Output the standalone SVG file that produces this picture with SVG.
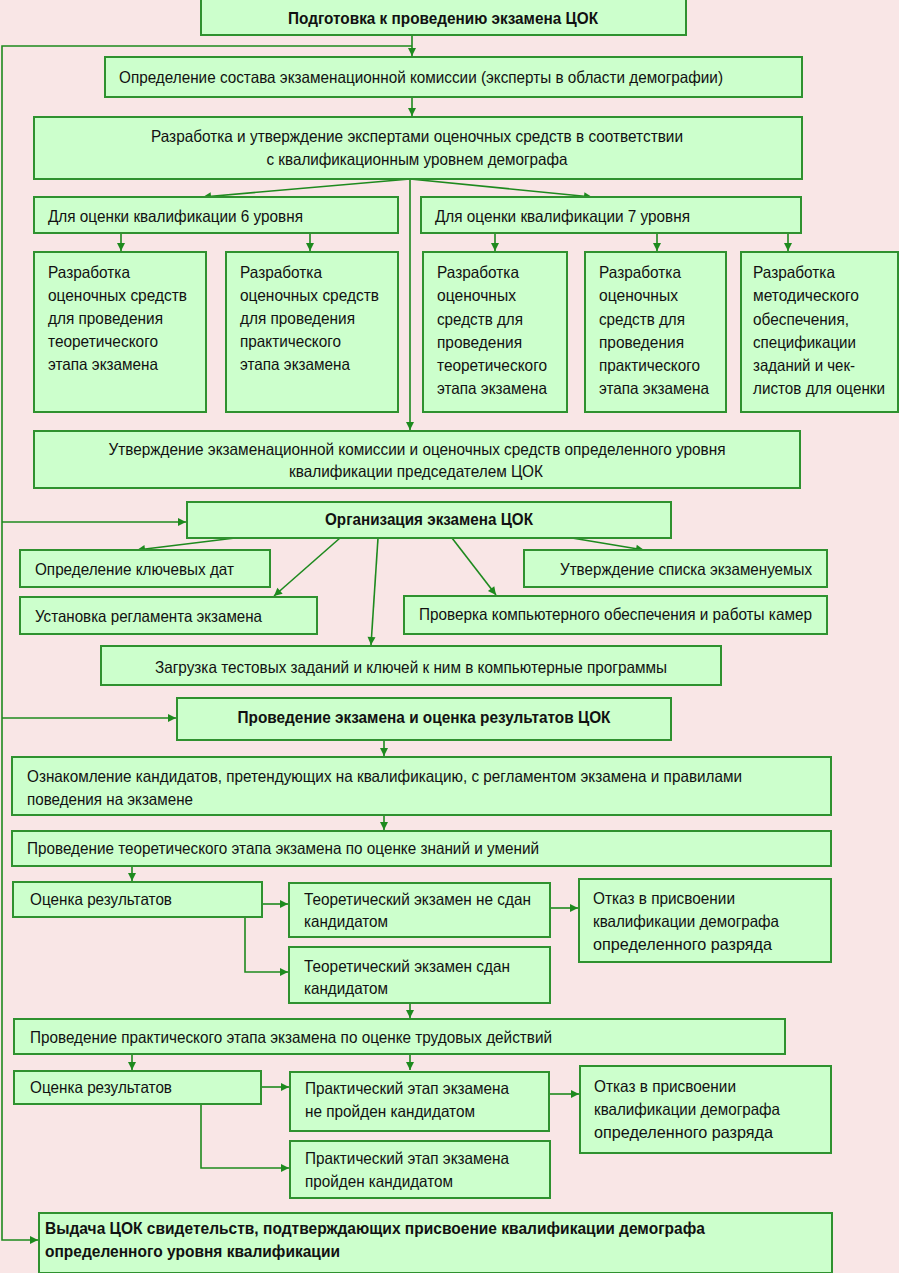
<svg xmlns="http://www.w3.org/2000/svg" width="899" height="1273" viewBox="0 0 899 1273">
<style>
.bg{fill:#f9e6e6}
.box{fill:#ccffcc;stroke:#2f912f;stroke-width:2}
.t{font-family:"Liberation Sans",Arial,sans-serif;font-size:16.5px;fill:#111}
.b{font-weight:bold}
.c{text-anchor:middle}
.ln{fill:none;stroke:#1e8a1e;stroke-width:1.6}
</style>
<defs>
<marker id="ah" markerUnits="userSpaceOnUse" markerWidth="10" markerHeight="10" refX="9" refY="5" orient="auto">
<path d="M1,1 L9,5 L1,9 Z" fill="#1e8a1e"/>
</marker>
</defs>
<rect class="bg" x="0" y="0" width="899" height="1273"/>

<g id="connectors">
<path class="ln" d="M412,35 V56" marker-end="url(#ah)"/>
<path class="ln" d="M412,46 H2 V1240 H38" marker-end="url(#ah)"/>
<path class="ln" d="M2,522 H186" marker-end="url(#ah)"/>
<path class="ln" d="M2,718 H176" marker-end="url(#ah)"/>
<path class="ln" d="M412,97 V116" marker-end="url(#ah)"/>
<path class="ln" d="M410,179 L203,197" marker-end="url(#ah)"/>
<path class="ln" d="M410,179 L592,197" marker-end="url(#ah)"/>
<path class="ln" d="M410,179 V430" marker-end="url(#ah)"/>
<path class="ln" d="M121,233 V251" marker-end="url(#ah)"/>
<path class="ln" d="M310,233 V251" marker-end="url(#ah)"/>
<path class="ln" d="M495,233 V251" marker-end="url(#ah)"/>
<path class="ln" d="M657,233 V251" marker-end="url(#ah)"/>
<path class="ln" d="M788,233 V251" marker-end="url(#ah)"/>
<path class="ln" d="M235,538 L137,550" marker-end="url(#ah)"/>
<path class="ln" d="M340,538 L274,596" marker-end="url(#ah)"/>
<path class="ln" d="M378,538 L371,645" marker-end="url(#ah)"/>
<path class="ln" d="M452,538 L496,595" marker-end="url(#ah)"/>
<path class="ln" d="M572,538 L644,550" marker-end="url(#ah)"/>
<path class="ln" d="M384,740 V756" marker-end="url(#ah)"/>
<path class="ln" d="M384,815 V830" marker-end="url(#ah)"/>
<path class="ln" d="M132,866 V881" marker-end="url(#ah)"/>
<path class="ln" d="M262,904 H288" marker-end="url(#ah)"/>
<path class="ln" d="M245,917 V972 H288" marker-end="url(#ah)"/>
<path class="ln" d="M550,908 H578" marker-end="url(#ah)"/>
<path class="ln" d="M410,1003 V1018" marker-end="url(#ah)"/>
<path class="ln" d="M132,1054 V1070" marker-end="url(#ah)"/>
<path class="ln" d="M410,1054 V1070" marker-end="url(#ah)"/>
<path class="ln" d="M261,1087 H289" marker-end="url(#ah)"/>
<path class="ln" d="M201,1104 V1168 H289" marker-end="url(#ah)"/>
<path class="ln" d="M549,1094 H579" marker-end="url(#ah)"/>
</g>

<g id="n1"><rect class="box" x="201" y="-1" width="485" height="36"/>
<text class="t b c" x="443" y="24" textLength="310" lengthAdjust="spacingAndGlyphs">Подготовка к проведению экзамена ЦОК</text></g>

<g id="n2"><rect class="box" x="105" y="57" width="697" height="40"/>
<text class="t" x="119" y="83" textLength="604" lengthAdjust="spacingAndGlyphs">Определение состава экзаменационной комиссии (эксперты в области демографии)</text></g>

<g id="n3"><rect class="box" x="34" y="117" width="768" height="62"/>
<text class="t c" x="417" y="142" textLength="532" lengthAdjust="spacingAndGlyphs">Разработка и утверждение экспертами оценочных средств в соответствии</text>
<text class="t c" x="417" y="165" textLength="301" lengthAdjust="spacingAndGlyphs">с квалификационным уровнем демографа</text></g>

<g id="n4"><rect class="box" x="34" y="197" width="364" height="36"/>
<text class="t" x="48" y="222" textLength="255" lengthAdjust="spacingAndGlyphs">Для оценки квалификации 6 уровня</text></g>

<g id="n5"><rect class="box" x="421" y="197" width="380" height="36"/>
<text class="t" x="435" y="222" textLength="255" lengthAdjust="spacingAndGlyphs">Для оценки квалификации 7 уровня</text></g>

<g id="n6"><rect class="box" x="34" y="252" width="172" height="160"/>
<text class="t" x="48" y="278" textLength="82" lengthAdjust="spacingAndGlyphs">Разработка</text>
<text class="t" x="48" y="301" textLength="139" lengthAdjust="spacingAndGlyphs">оценочных средств</text>
<text class="t" x="48" y="324" textLength="115" lengthAdjust="spacingAndGlyphs">для проведения</text>
<text class="t" x="48" y="347" textLength="110" lengthAdjust="spacingAndGlyphs">теоретического</text>
<text class="t" x="48" y="370" textLength="110" lengthAdjust="spacingAndGlyphs">этапа экзамена</text></g>

<g id="n7"><rect class="box" x="226" y="252" width="172" height="160"/>
<text class="t" x="240" y="278" textLength="82" lengthAdjust="spacingAndGlyphs">Разработка</text>
<text class="t" x="240" y="301" textLength="139" lengthAdjust="spacingAndGlyphs">оценочных средств</text>
<text class="t" x="240" y="324" textLength="115" lengthAdjust="spacingAndGlyphs">для проведения</text>
<text class="t" x="240" y="347" textLength="101" lengthAdjust="spacingAndGlyphs">практического</text>
<text class="t" x="240" y="370" textLength="110" lengthAdjust="spacingAndGlyphs">этапа экзамена</text></g>

<g id="n8"><rect class="box" x="423" y="252" width="144" height="160"/>
<text class="t" x="437" y="278" textLength="82" lengthAdjust="spacingAndGlyphs">Разработка</text>
<text class="t" x="437" y="301" textLength="79" lengthAdjust="spacingAndGlyphs">оценочных</text>
<text class="t" x="437" y="325" textLength="86" lengthAdjust="spacingAndGlyphs">средств для</text>
<text class="t" x="437" y="348" textLength="85" lengthAdjust="spacingAndGlyphs">проведения</text>
<text class="t" x="437" y="371" textLength="110" lengthAdjust="spacingAndGlyphs">теоретического</text>
<text class="t" x="437" y="394" textLength="110" lengthAdjust="spacingAndGlyphs">этапа экзамена</text></g>

<g id="n9"><rect class="box" x="585" y="252" width="141" height="160"/>
<text class="t" x="599" y="278" textLength="82" lengthAdjust="spacingAndGlyphs">Разработка</text>
<text class="t" x="599" y="301" textLength="79" lengthAdjust="spacingAndGlyphs">оценочных</text>
<text class="t" x="599" y="325" textLength="86" lengthAdjust="spacingAndGlyphs">средств для</text>
<text class="t" x="599" y="348" textLength="85" lengthAdjust="spacingAndGlyphs">проведения</text>
<text class="t" x="599" y="371" textLength="101" lengthAdjust="spacingAndGlyphs">практического</text>
<text class="t" x="599" y="394" textLength="110" lengthAdjust="spacingAndGlyphs">этапа экзамена</text></g>

<g id="n10"><rect class="box" x="741" y="252" width="157" height="160"/>
<text class="t" x="753" y="278" textLength="82" lengthAdjust="spacingAndGlyphs">Разработка</text>
<text class="t" x="753" y="301" textLength="106" lengthAdjust="spacingAndGlyphs">методического</text>
<text class="t" x="753" y="325" textLength="96" lengthAdjust="spacingAndGlyphs">обеспечения,</text>
<text class="t" x="753" y="348" textLength="103" lengthAdjust="spacingAndGlyphs">спецификации</text>
<text class="t" x="753" y="371" textLength="102" lengthAdjust="spacingAndGlyphs">заданий и чек-</text>
<text class="t" x="753" y="394" textLength="132" lengthAdjust="spacingAndGlyphs">листов для оценки</text></g>

<g id="n11"><rect class="box" x="34" y="431" width="766" height="57"/>
<text class="t c" x="417" y="455" textLength="617" lengthAdjust="spacingAndGlyphs">Утверждение экзаменационной комиссии и оценочных средств определенного уровня</text>
<text class="t c" x="416" y="477" textLength="254" lengthAdjust="spacingAndGlyphs">квалификации председателем ЦОК</text></g>

<g id="n12"><rect class="box" x="187" y="502" width="484" height="36"/>
<text class="t b c" x="429" y="525" textLength="208" lengthAdjust="spacingAndGlyphs">Организация экзамена ЦОК</text></g>

<g id="n13"><rect class="box" x="20" y="550" width="250" height="37"/>
<text class="t" x="35" y="575" textLength="199" lengthAdjust="spacingAndGlyphs">Определение ключевых дат</text></g>

<g id="n14"><rect class="box" x="20" y="597" width="297" height="37"/>
<text class="t" x="35" y="622" textLength="227" lengthAdjust="spacingAndGlyphs">Установка регламента экзамена</text></g>

<g id="n15"><rect class="box" x="524" y="550" width="303" height="37"/>
<text class="t" x="560" y="575" textLength="252" lengthAdjust="spacingAndGlyphs">Утверждение списка экзаменуемых</text></g>

<g id="n16"><rect class="box" x="404" y="596" width="423" height="38"/>
<text class="t" x="419" y="620" textLength="393" lengthAdjust="spacingAndGlyphs">Проверка компьютерного обеспечения и работы камер</text></g>

<g id="n17"><rect class="box" x="101" y="646" width="620" height="39"/>
<text class="t c" x="411" y="673" textLength="512" lengthAdjust="spacingAndGlyphs">Загрузка тестовых заданий и ключей к ним в компьютерные программы</text></g>

<g id="n18"><rect class="box" x="177" y="698" width="494" height="42"/>
<text class="t b c" x="424" y="723" textLength="373" lengthAdjust="spacingAndGlyphs">Проведение экзамена и оценка результатов ЦОК</text></g>

<g id="n19"><rect class="box" x="12" y="757" width="819" height="58"/>
<text class="t" x="27" y="782" textLength="715" lengthAdjust="spacingAndGlyphs">Ознакомление кандидатов, претендующих на квалификацию, с регламентом экзамена и правилами</text>
<text class="t" x="27" y="805" textLength="166" lengthAdjust="spacingAndGlyphs">поведения на экзамене</text></g>

<g id="n20"><rect class="box" x="12" y="831" width="819" height="35"/>
<text class="t" x="27" y="854" textLength="512" lengthAdjust="spacingAndGlyphs">Проведение теоретического этапа экзамена по оценке знаний и умений</text></g>

<g id="n21"><rect class="box" x="13" y="882" width="249" height="35"/>
<text class="t" x="30" y="905" textLength="142" lengthAdjust="spacingAndGlyphs">Оценка результатов</text></g>

<g id="n22"><rect class="box" x="289" y="883" width="261" height="54"/>
<text class="t" x="304" y="905" textLength="227" lengthAdjust="spacingAndGlyphs">Теоретический экзамен не сдан</text>
<text class="t" x="304" y="927" textLength="84" lengthAdjust="spacingAndGlyphs">кандидатом</text></g>

<g id="n23"><rect class="box" x="289" y="947" width="261" height="56"/>
<text class="t" x="304" y="972" textLength="206" lengthAdjust="spacingAndGlyphs">Теоретический экзамен сдан</text>
<text class="t" x="304" y="994" textLength="84" lengthAdjust="spacingAndGlyphs">кандидатом</text></g>

<g id="n24"><rect class="box" x="579" y="879" width="252" height="83"/>
<text class="t" x="593" y="904" textLength="142" lengthAdjust="spacingAndGlyphs">Отказ в присвоении</text>
<text class="t" x="593" y="927" textLength="186" lengthAdjust="spacingAndGlyphs">квалификации демографа</text>
<text class="t" x="593" y="950" textLength="179" lengthAdjust="spacingAndGlyphs">определенного разряда</text></g>

<g id="n25"><rect class="box" x="14" y="1019" width="771" height="35"/>
<text class="t" x="30" y="1043" textLength="522" lengthAdjust="spacingAndGlyphs">Проведение практического этапа экзамена по оценке трудовых действий</text></g>

<g id="n26"><rect class="box" x="14" y="1071" width="247" height="33"/>
<text class="t" x="30" y="1093" textLength="142" lengthAdjust="spacingAndGlyphs">Оценка результатов</text></g>

<g id="n27"><rect class="box" x="290" y="1072" width="259" height="59"/>
<text class="t" x="305" y="1094" textLength="204" lengthAdjust="spacingAndGlyphs">Практический этап экзамена</text>
<text class="t" x="305" y="1117" textLength="170" lengthAdjust="spacingAndGlyphs">не пройден кандидатом</text></g>

<g id="n28"><rect class="box" x="290" y="1141" width="260" height="57"/>
<text class="t" x="305" y="1164" textLength="204" lengthAdjust="spacingAndGlyphs">Практический этап экзамена</text>
<text class="t" x="305" y="1187" textLength="148" lengthAdjust="spacingAndGlyphs">пройден кандидатом</text></g>

<g id="n29"><rect class="box" x="580" y="1066" width="251" height="87"/>
<text class="t" x="594" y="1092" textLength="142" lengthAdjust="spacingAndGlyphs">Отказ в присвоении</text>
<text class="t" x="594" y="1115" textLength="186" lengthAdjust="spacingAndGlyphs">квалификации демографа</text>
<text class="t" x="594" y="1138" textLength="179" lengthAdjust="spacingAndGlyphs">определенного разряда</text></g>

<g id="n30"><rect class="box" x="39" y="1213" width="793" height="60"/>
<text class="t b" x="45" y="1234" textLength="660" lengthAdjust="spacingAndGlyphs">Выдача ЦОК свидетельств, подтверждающих присвоение квалификации демографа</text>
<text class="t b" x="45" y="1257" textLength="295" lengthAdjust="spacingAndGlyphs">определенного уровня квалификации</text></g>
</svg>
